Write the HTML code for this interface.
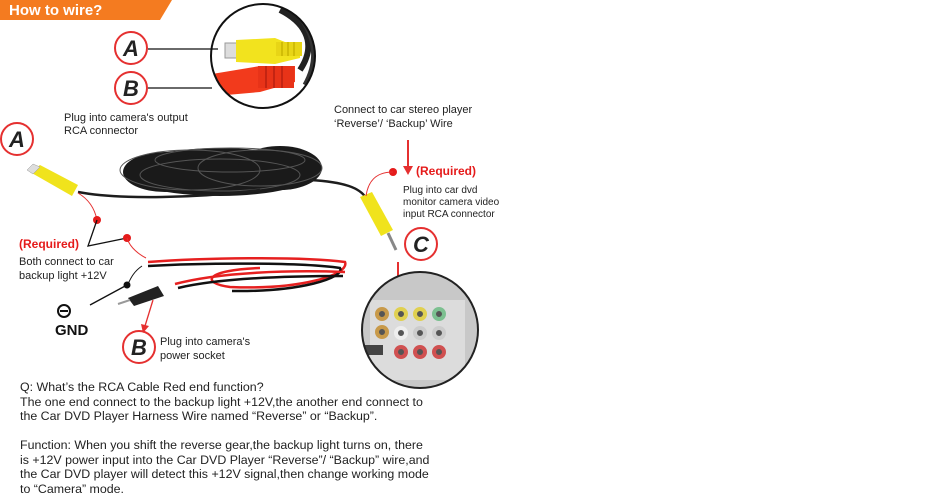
<!DOCTYPE html>
<html><head><meta charset="utf-8"><style>
html,body{margin:0;padding:0;background:#fff;}
svg{display:block;font-family:"Liberation Sans",Arial,sans-serif;}
</style></head><body>
<svg width="950" height="500" viewBox="0 0 950 500" xmlns="http://www.w3.org/2000/svg">
<defs>
<clipPath id="mag"><circle cx="263" cy="56" r="52"/></clipPath>
<clipPath id="pan"><circle cx="420" cy="330" r="58"/></clipPath>
</defs>
<polygon points="0,0 172,0 160,20 0,20" fill="#f47b20"/>
<text x="9" y="15" font-size="15" font-weight="bold" fill="#fff">How to wire?</text>

<g clip-path="url(#mag)">
<path d="M280,10 C300,20 320,40 300,70" stroke="#222" stroke-width="6" fill="none"/>
<path d="M290,8 C312,25 322,55 305,85" stroke="#333" stroke-width="5" fill="none"/>
<rect x="225" y="43" width="12" height="15" fill="#ddd" stroke="#999"/>
<polygon points="236,40 275,38 300,48 300,58 275,64 236,62" fill="#f2e31e"/>
<rect x="276" y="42" width="26" height="14" fill="#e8d516"/>
<g stroke="#c9b500" stroke-width="1.5"><line x1="282" y1="42" x2="282" y2="56"/><line x1="288" y1="42" x2="288" y2="56"/><line x1="294" y1="42" x2="294" y2="56"/></g>
<polygon points="212,74 260,66 295,66 295,82 260,92 215,96" fill="#f23a1c"/>
<rect x="258" y="66" width="36" height="22" fill="#e83318"/>
<g stroke="#b82010" stroke-width="1.5"><line x1="266" y1="66" x2="266" y2="88"/><line x1="274" y1="66" x2="274" y2="88"/><line x1="282" y1="66" x2="282" y2="88"/></g>
</g>
<circle cx="263" cy="56" r="52" fill="none" stroke="#111" stroke-width="2"/>
<line x1="148" y1="49" x2="218" y2="49" stroke="#111" stroke-width="1.2"/>
<line x1="148" y1="88" x2="212" y2="88" stroke="#111" stroke-width="1.2"/>

<g font-size="22" font-weight="bold" font-style="italic" text-anchor="middle" fill="#222">
<circle cx="131" cy="48" r="16" fill="#fff" stroke="#e53030" stroke-width="2"/><text x="131" y="56">A</text>
<circle cx="131" cy="88" r="16" fill="#fff" stroke="#e53030" stroke-width="2"/><text x="131" y="96">B</text>
<circle cx="17" cy="139" r="16" fill="#fff" stroke="#e53030" stroke-width="2"/><text x="17" y="147">A</text>
<circle cx="421" cy="244" r="16" fill="#fff" stroke="#e53030" stroke-width="2"/><text x="421" y="252">C</text>
<circle cx="139" cy="347" r="16" fill="#fff" stroke="#e53030" stroke-width="2"/><text x="139" y="355">B</text>
</g>

<!-- black coil -->
<ellipse cx="220" cy="172" rx="95" ry="24" fill="#1a1a1a"/>
<ellipse cx="280" cy="168" rx="42" ry="22" fill="#1a1a1a"/>
<ellipse cx="165" cy="172" rx="42" ry="20" fill="#1a1a1a"/>
<g fill="none" stroke="#555" stroke-width="1">
<ellipse cx="190" cy="170" rx="70" ry="20"/>
<ellipse cx="260" cy="168" rx="62" ry="18"/>
<ellipse cx="220" cy="175" rx="80" ry="16"/>
<ellipse cx="230" cy="160" rx="75" ry="12"/>
</g>
<g fill="none" stroke="#1d1d1d">
<path d="M78,192 C120,200 200,198 260,190" stroke-width="2.5"/>
<path d="M310,180 C345,182 360,188 366,198" stroke-width="2.5"/>
</g>
<polygon points="30,172 40,165 78,185 72,196" fill="#f0e31c"/>
<polygon points="27,170 33,164 40,167 33,174" fill="#ddd" stroke="#999" stroke-width="0.5"/>
<polygon points="360,197 372,192 393,230 381,236" fill="#f0e31c"/>
<line x1="388" y1="233" x2="396" y2="250" stroke="#888" stroke-width="3"/>

<g fill="none" stroke-width="2.5">
<path d="M148,262 C200,258 300,256 345,262 C350,275 300,290 230,287 C200,283 205,270 260,268" stroke="#e62020"/>
<path d="M148,266 C200,263 300,262 340,268 C345,278 300,292 232,291" stroke="#111"/>
<path d="M175,284 C220,272 290,270 345,272" stroke="#e62020"/>
<path d="M178,288 C220,278 290,276 343,276" stroke="#111"/>
</g>
<polygon points="128,298 158,286 164,296 134,306" fill="#222"/>
<line x1="118" y1="304" x2="130" y2="300" stroke="#999" stroke-width="2"/>

<path d="M78,193 C90,200 95,210 97,220" stroke="#e53030" fill="none" stroke-width="1"/>
<circle cx="97" cy="220" r="4" fill="#e51b1b"/>
<polyline points="97,220 88,246 127,238" stroke="#111" fill="none" stroke-width="1.3"/>
<circle cx="127" cy="238" r="4" fill="#e51b1b"/>
<path d="M127,238 C130,248 140,255 146,258" stroke="#e53030" fill="none" stroke-width="1"/>
<path d="M142,266 C133,272 130,280 128,284" stroke="#111" fill="none" stroke-width="1"/>
<circle cx="127" cy="285" r="3.5" fill="#111"/>
<line x1="127" y1="285" x2="90" y2="305" stroke="#111" stroke-width="1.3"/>
<line x1="153" y1="300" x2="145" y2="326" stroke="#e53030" stroke-width="1.3"/>
<polygon points="141,324 149,326 143,333" fill="#e53030"/>
<circle cx="393" cy="172" r="4" fill="#e51b1b"/>
<path d="M393,172 C375,172 368,182 366,196" stroke="#e53030" fill="none" stroke-width="1"/>
<line x1="408" y1="140" x2="408" y2="168" stroke="#e53030" stroke-width="2"/>
<polygon points="403,166 413,166 408,175" fill="#e53030"/>
<line x1="398" y1="262" x2="398" y2="300" stroke="#e53030" stroke-width="2"/>
<polygon points="393,298 403,298 398,307" fill="#e53030"/>

<g clip-path="url(#pan)">
<rect x="360" y="270" width="120" height="120" fill="#c8c8c8"/>
<rect x="370" y="300" width="95" height="80" fill="#dcdcdc"/>
<g stroke-width="4" fill="#555">
<circle cx="382" cy="314" r="5" stroke="#c89a4a"/><circle cx="382" cy="332" r="5" stroke="#c89a4a"/>
<circle cx="401" cy="314" r="5" stroke="#e0d050"/><circle cx="420" cy="314" r="5" stroke="#e0d050"/><circle cx="439" cy="314" r="5" stroke="#7cc090"/>
<circle cx="401" cy="333" r="5" stroke="#eee"/><circle cx="420" cy="333" r="5" stroke="#ccc"/><circle cx="439" cy="333" r="5" stroke="#ccc"/>
<circle cx="401" cy="352" r="5" stroke="#d05050"/><circle cx="420" cy="352" r="5" stroke="#d05050"/><circle cx="439" cy="352" r="5" stroke="#d05050"/>
</g>
<rect x="365" y="345" width="18" height="10" fill="#444"/>
</g>
<circle cx="420" cy="330" r="58" fill="none" stroke="#222" stroke-width="2"/>

<g font-size="11" fill="#222">
<text x="64" y="121">Plug into camera's output</text>
<text x="64" y="134">RCA connector</text>
<text x="334" y="113">Connect to car stereo player</text>
<text x="334" y="127">‘Reverse’/ ‘Backup’ Wire</text>
<text x="403" y="193" font-size="10">Plug into car dvd</text>
<text x="403" y="205" font-size="10">monitor camera video</text>
<text x="403" y="217" font-size="10">input RCA connector</text>
<text x="19" y="265">Both connect to car</text>
<text x="19" y="279">backup light +12V</text>
<text x="160" y="345">Plug into camera's</text>
<text x="160" y="359">power socket</text>
</g>
<text x="416" y="175" font-size="12" font-weight="bold" fill="#e51b1b">(Required)</text>
<text x="19" y="248" font-size="12" font-weight="bold" fill="#e51b1b">(Required)</text>
<circle cx="64" cy="311" r="6" fill="none" stroke="#111" stroke-width="2"/>
<line x1="60" y1="311" x2="68" y2="311" stroke="#111" stroke-width="2"/>
<text x="55" y="335" font-size="15" font-weight="bold" fill="#111">GND</text>

<g font-size="12.4" fill="#222">
<text x="20" y="391">Q: What’s the RCA Cable Red end function?</text>
<text x="20" y="406">The one end connect to the backup light +12V,the another end connect to</text>
<text x="20" y="420">the Car DVD Player Harness Wire named “Reverse” or “Backup”.</text>
<text x="20" y="449">Function: When you shift the reverse gear,the backup light turns on, there</text>
<text x="20" y="464">is +12V power input into the Car DVD Player “Reverse”/ “Backup” wire,and</text>
<text x="20" y="478">the Car DVD player will detect this +12V signal,then change working mode</text>
<text x="20" y="493">to “Camera” mode.</text>
</g>
</svg>
</body></html>
